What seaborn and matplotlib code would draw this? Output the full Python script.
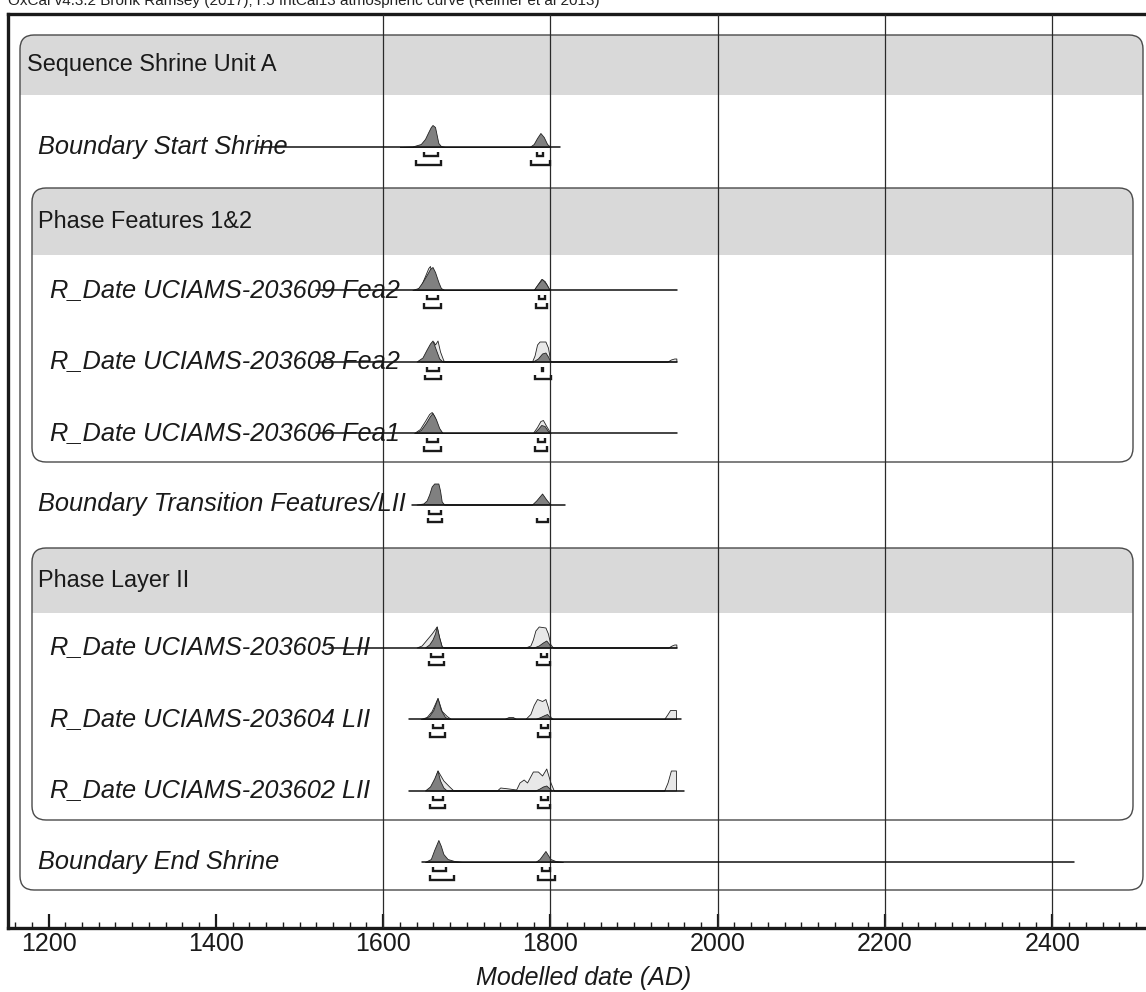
import matplotlib
matplotlib.use("Agg")
import matplotlib.pyplot as plt
from matplotlib.patches import FancyBboxPatch, Rectangle
from matplotlib.ticker import MultipleLocator
import numpy as np
import pandas as pd
import seaborn as sns

# ---------------------------------------------------------------- data
header_text = "OxCal v4.3.2 Bronk Ramsey (2017); r:5 IntCal13 atmospheric curve (Reimer et al 2013)"
x_title = "Modelled date (AD)"

group_labels = ["Sequence Shrine Unit A", "Phase Features 1&2", "Phase Layer II"]

row_labels = [
    "Boundary Start Shrine",
    "R_Date UCIAMS-203609 Fea2",
    "R_Date UCIAMS-203608 Fea2",
    "R_Date UCIAMS-203606 Fea1",
    "Boundary Transition Features/LII",
    "R_Date UCIAMS-203605 LII",
    "R_Date UCIAMS-203604 LII",
    "R_Date UCIAMS-203602 LII",
    "Boundary End Shrine",
]

# span of each distribution's base line (years AD)
line_start = [1450, 1520, 1520, 1520, 1634, 1535, 1631, 1631, 1646]
line_end = [1812, 1951, 1951, 1951, 1817, 1951, 1956, 1960, 2426]

# modelled (posterior) distributions: (year AD, relative probability)
post_start = [(1620, 0), (1635, 0.5), (1645, 3), (1650, 8), (1654, 15), (1657, 20), (1659, 22),
              (1662, 20), (1664, 12), (1666, 4), (1669, 1), (1674, 0),
              (1775, 0), (1780, 3), (1784, 9), (1788, 14), (1792, 10), (1796, 3), (1800, 0)]
post_609 = [(1635, 0), (1642, 2), (1647, 8), (1652, 15), (1656, 21), (1659, 23), (1662, 18),
            (1666, 8), (1669, 2), (1673, 0),
            (1780, 0), (1785, 6), (1790, 11), (1795, 6), (1799, 0)]
post_608 = [(1640, 0), (1647, 4), (1652, 12), (1656, 18), (1659, 21), (1663, 12), (1667, 3), (1671, 0),
            (1779, 0), (1785, 3), (1790, 8), (1794, 9), (1797, 5), (1800, 0)]
post_606 = [(1638, 0), (1645, 3), (1651, 10), (1656, 17), (1659, 20), (1663, 14), (1667, 5), (1671, 0),
            (1780, 0), (1785, 4), (1789, 8), (1793, 7), (1797, 2), (1800, 0)]
post_trans = [(1640, 0), (1648, 1), (1652, 4), (1655, 10), (1658, 18), (1661, 21), (1666, 21),
              (1668, 14), (1670, 3), (1673, 0),
              (1778, 0), (1783, 4), (1790, 11), (1795, 5), (1800, 0)]
post_605 = [(1650, 0), (1655, 3), (1659, 8), (1662, 14), (1664, 21), (1667, 10), (1670, 1), (1673, 0),
            (1780, 0), (1786, 2), (1791, 5), (1795, 7), (1798, 4), (1801, 0)]
post_604 = [(1648, 0), (1655, 3), (1660, 9), (1665, 21), (1669, 9), (1674, 2), (1679, 0),
            (1782, 0), (1788, 2), (1793, 4), (1796, 5), (1799, 2), (1801, 0)]
post_602 = [(1650, 0), (1656, 4), (1661, 12), (1665, 20), (1668, 10), (1672, 3), (1676, 0),
            (1782, 0), (1787, 2), (1791, 4), (1795, 5), (1799, 2), (1802, 0)]
post_end = [(1650, 0), (1657, 3), (1661, 12), (1666, 22), (1669, 16), (1672, 8), (1677, 3),
            (1685, 1), (1695, 0),
            (1782, 0), (1787, 3), (1794, 11), (1800, 3), (1806, 1), (1815, 0)]

# unmodelled (likelihood) distributions of the dated samples
like_609 = [(1640, 0), (1645, 4), (1650, 14), (1654, 22), (1656, 24), (1658, 16), (1662, 6),
            (1666, 1), (1670, 0),
            (1780, 0), (1785, 6), (1789, 11), (1793, 9), (1799, 0)]
like_608 = [(1645, 0), (1652, 6), (1657, 16), (1660, 20), (1662, 17), (1665, 21), (1668, 10),
            (1672, 1), (1675, 0),
            (1778, 0), (1781, 6), (1784, 17), (1787, 20), (1794, 20), (1797, 14), (1800, 0),
            (1940, 0), (1944, 2), (1948, 3), (1950.5, 3), (1950.6, 0)]
like_606 = [(1637, 0), (1644, 4), (1650, 12), (1655, 19), (1658, 21), (1661, 17), (1665, 6), (1670, 0),
            (1779, 0), (1784, 6), (1788, 12), (1791, 13), (1795, 7), (1800, 0)]
like_605 = [(1640, 0), (1646, 2), (1652, 8), (1658, 14), (1664, 21), (1667, 10), (1670, 1), (1673, 0),
            (1770, 0), (1776, 2), (1779, 8), (1782, 17), (1786, 21), (1794, 20), (1797, 14),
            (1800, 3), (1803, 0),
            (1941, 0), (1945, 2), (1948, 3), (1950.5, 3), (1950.6, 0)]
like_604 = [(1645, 0), (1652, 2), (1658, 8), (1665, 21), (1670, 8), (1676, 3), (1681, 0),
            (1745, 0), (1750, 2), (1755, 2), (1759, 0), (1770, 0), (1776, 5), (1780, 14),
            (1784, 20), (1790, 18), (1794, 20), (1797, 12), (1800, 2), (1803, 0),
            (1936, 0), (1940, 5), (1943, 9), (1950, 9), (1950.1, 0)]
like_602 = [(1656, 0), (1661, 10), (1665, 20), (1672, 10), (1679, 4), (1684, 0),
            (1736, 0), (1740, 3), (1750, 2), (1759, 1), (1763, 8), (1768, 11), (1772, 8),
            (1779, 19), (1785, 19), (1790, 15), (1795, 22), (1800, 8), (1804, 0),
            (1936, 0), (1940, 8), (1944, 20), (1950, 20), (1950.1, 0)]

posteriors = [post_start, post_609, post_608, post_606, post_trans,
              post_605, post_604, post_602, post_end]
likelihoods = [None, like_609, like_608, like_606, None,
               like_605, like_604, like_602, None]

# highest posterior density ranges
hpd68 = [
    [(1649, 1665), (1784, 1791)],
    [(1653, 1666), (1786, 1794)],
    [(1653, 1667), (1789.5, 1791)],
    [(1653, 1666), (1785, 1794)],
    [(1655, 1669)],
    [(1657, 1671), (1789, 1796)],
    [(1659, 1671), (1789, 1797)],
    [(1659, 1671), (1789, 1797)],
    [(1660, 1675), (1790, 1799)],
]
hpd95 = [
    [(1639, 1669), (1777, 1800)],
    [(1649, 1669), (1783, 1796)],
    [(1650, 1669), (1782, 1801)],
    [(1649, 1669), (1782, 1796)],
    [(1654, 1670), (1784, 1797)],
    [(1655, 1673), (1784, 1800)],
    [(1656, 1674), (1785, 1800)],
    [(1656, 1674), (1785, 1800)],
    [(1656, 1685), (1785, 1806)],
]

grid_years = [1600, 1800, 2000, 2200, 2400]

# ---------------------------------------------------------------- layout
W, H = 1146, 992
AX_L, AX_R, AX_T, AX_B = 8, 1146, 14, 928
X0, X1 = 1151.5, 2512.0
PX_PER_YR = (AX_R - AX_L) / (X1 - X0)


def px2yr(px):
    return X0 + (px - AX_L) / PX_PER_YR


row_slot = [1, 3, 4, 5, 6, 8, 9, 10, 11]
row_indent = [0, 1, 1, 1, 0, 1, 1, 1, 0]
row_y = [147 + 71.5 * (s - 1) for s in row_slot]
label_px = [38, 50]

# group boxes: left px, right px, top, band bottom, box bottom, label px
boxes = [
    (20, 1143, 35, 95, 890, 27),
    (32, 1133, 188, 255, 462, 38),
    (32, 1133, 548, 613, 820, 38),
]
RADIUS = 14

FONT = ["Liberation Sans", "DejaVu Sans"]
FS_HEAD = 16.9
FS_ROW = 18.3
FS_AX = 18

sns.set_theme(style="white")
plt.rcParams["font.family"] = FONT

fig = plt.figure(figsize=(W / 100, H / 100), dpi=100)
ax = fig.add_axes([AX_L / W, 1 - AX_B / H, (AX_R - AX_L) / W, (AX_B - AX_T) / H])
ax.set_xlim(X0, X1)
ax.set_ylim(AX_B, AX_T)

# group boxes with shaded header bands
for (l, r, top, band_b, bot, lab_px), lab in zip(boxes, group_labels):
    xl, xr = px2yr(l), px2yr(r)
    rs = RADIUS / PX_PER_YR
    ax.add_patch(FancyBboxPatch((xl, top), xr - xl, band_b - top,
                                boxstyle=f"round,pad=0,rounding_size={rs}",
                                mutation_aspect=PX_PER_YR,
                                facecolor="#d9d9d9", edgecolor="none", zorder=1))
    ax.add_patch(Rectangle((xl, top + RADIUS), xr - xl, band_b - top - RADIUS,
                           facecolor="#d9d9d9", edgecolor="none", zorder=1))
    ax.add_patch(FancyBboxPatch((xl, top), xr - xl, bot - top,
                                boxstyle=f"round,pad=0,rounding_size={rs}",
                                mutation_aspect=PX_PER_YR,
                                facecolor="none", edgecolor="#4a4a4a", lw=1.0, zorder=2))
    ax.text(px2yr(lab_px), (top + band_b) / 2, lab, fontsize=FS_HEAD, color="#1a1a1a",
            va="center", ha="left", zorder=6)

# base lines of every row
base_df = pd.DataFrame({
    "year": [v for s, e in zip(line_start, line_end) for v in (s, e)],
    "y": [v for y in row_y for v in (y, y)],
    "row": [i for i in range(len(row_y)) for _ in (0, 1)],
})
sns.lineplot(data=base_df, x="year", y="y", units="row", estimator=None, sort=False,
             color="#111111", lw=1.1, legend=False, ax=ax, zorder=5)

# distributions
for y, post, like in zip(row_y, posteriors, likelihoods):
    if like is not None:
        lx = np.array([p[0] for p in like], float)
        lh = np.array([p[1] for p in like], float)
        ax.fill_between(lx, y, y - lh, facecolor="#e8e8e8", edgecolor="#222222",
                        lw=0.6, zorder=3)
    px_ = np.array([p[0] for p in post], float)
    ph = np.array([p[1] for p in post], float)
    ax.fill_between(px_, y, y - ph, facecolor="#808080", edgecolor="#222222",
                    lw=0.6, zorder=3.2)


def bracket(a, b, y_top, y_bot):
    ax.plot([a, a, b, b], [y_top, y_bot, y_bot, y_top], color="#1a1a1a",
            lw=1.7, solid_joinstyle="miter", solid_capstyle="butt", zorder=5)


for y, r68, r95 in zip(row_y, hpd68, hpd95):
    for a, b in r68:
        bracket(a, b, y + 5, y + 9.3)
    for a, b in r95:
        bracket(a, b, y + 13.3, y + 17.6)

# row labels
for y, lab, ind in zip(row_y, row_labels, row_indent):
    ax.text(px2yr(label_px[ind]), y, lab, fontsize=FS_ROW, style="italic",
            color="#1a1a1a", va="center", ha="left", zorder=6)

# vertical reference lines
ax.vlines(grid_years, AX_T, AX_B, colors="#2a2a2a", lw=0.9, zorder=4)

# axes frame and ticks
for side in ["left", "top", "bottom"]:
    ax.spines[side].set_visible(True)
    ax.spines[side].set_color("#1a1a1a")
    ax.spines[side].set_linewidth(2.4)
ax.spines["right"].set_visible(False)
ax.set_yticks([])
ax.xaxis.set_major_locator(MultipleLocator(200))
ax.xaxis.set_minor_locator(MultipleLocator(20))
ax.tick_params(axis="x", which="major", direction="in", length=10, width=1.6,
               color="#1a1a1a", labelsize=FS_AX, labelcolor="#1a1a1a", pad=3, bottom=True)
ax.tick_params(axis="x", which="minor", direction="in", length=4.5, width=1.0,
               color="#1a1a1a", bottom=True)
ax.set_xlabel(x_title, fontsize=FS_AX, style="italic", color="#1a1a1a", labelpad=7)
ax.xaxis.set_label_coords((583.5 - AX_L) / (AX_R - AX_L), -0.0)
ax.xaxis.label.set_verticalalignment("top")
ax.set_ylabel("")

fig.canvas.draw()
# place the axis title just below the tick labels
label_y_px = 966
ax.xaxis.set_label_coords((583.5 - AX_L) / (AX_R - AX_L),
                          -(label_y_px - AX_B) / (AX_B - AX_T))

fig.text(AX_L / W, 1 - 5.5 / H, header_text, fontsize=11, color="#222222",
         ha="left", va="baseline")

fig.savefig("out.png", dpi=100, facecolor="white")
